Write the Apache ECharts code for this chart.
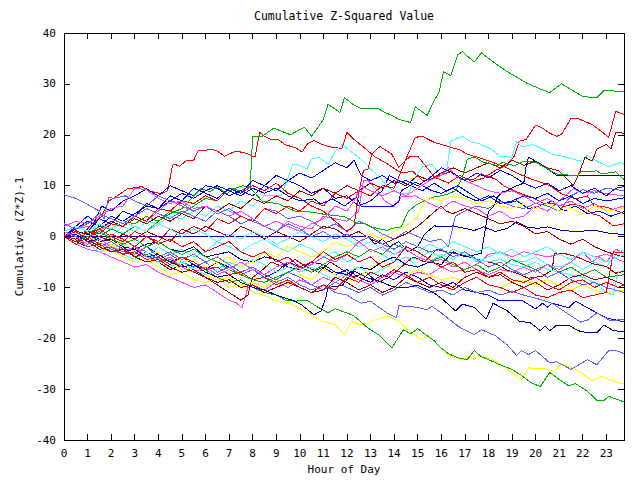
<!DOCTYPE html>
<html><head><meta charset="utf-8">
<script src="https://cdn.jsdelivr.net/npm/echarts@6/dist/echarts.min.js"></script>
<style>html,body{margin:0;padding:0;background:#fff}#c{width:640px;height:480px}#c svg path{shape-rendering:crispEdges}</style>
</head><body><div id="c"></div>
<script>
const titleText = 'Cumulative Z-Squared Value';
const xName = 'Hour of Day';
const yName = 'Cumulative (Z*Z)-1';
const xMin = 0, xMax = 23.75, xStep = 1;
const yMin = -40, yMax = 40, yStep = 10;

const C_RED = '#ff0000', C_GREEN = '#00b000', C_BLUE = '#0000ff', C_MAGENTA = '#ff40ff',
      C_CYAN = '#40ffff', C_DARKRED = '#a00000', C_YELLOW = '#ffff00', C_SLATE = '#6060ff', C_NAVY = '#0000a0';

const green1 = [[0,0],[0.5,1],[1,0.5],[1.5,2],[2,1.5],[2.5,3],[3,2.5],[3.5,4],[4,3],[4.5,5],[5,4.5],[5.5,6],[6,7.5],[6.5,7],[7,9.5],[7.5,9],[7.9,10],[8.0,19.7],[8.4,19.7],[8.9,21.3],[9.6,20],[10.2,21.5],[10.5,19.7],[11,23],[11.2,26],[11.7,24.4],[11.9,27.3],[12.3,25.8],[12.6,25.2],[13.3,25.2],[13.6,24.4],[14,23.6],[14.2,23],[14.7,22.4],[14.9,25.5],[15.4,23.8],[15.7,26.7],[15.9,28.3],[16.1,32.4],[16.4,31.6],[16.7,35.7],[16.9,36.3],[17.4,34.3],[17.7,36.1],[18.3,34],[18.8,32.4],[19.1,31.6],[19.6,30.2],[20.2,29],[20.6,28.3],[21.1,30],[22,27.5],[22.6,27.3],[22.9,28.7],[23.75,28.5]];
const red1 = [[0,0],[0.4,1.5],[0.8,0.5],[1.2,2.5],[1.6,4],[1.9,7],[2.2,7.8],[2.7,9.4],[3.3,9.8],[3.6,9],[4.1,8.4],[4.4,9],[4.6,14],[4.7,14.2],[4.9,13.8],[5.2,15],[5.5,15],[5.7,17],[5.9,16.8],[6.2,17.2],[6.5,16.8],[6.8,15.8],[7.3,16.8],[7.7,16.4],[8.0,15.8],[8.1,15.6],[8.3,20.5],[8.5,19.7],[8.8,19],[9.1,19],[9.4,18],[9.8,17.5],[10.1,16.6],[10.3,18.1],[10.6,18.9],[10.9,18.2],[11.2,17.7],[11.6,17.4],[11.8,17.4],[12,20.5],[12.3,19.1],[12.8,17.2],[13.2,15.6],[13.6,14.6],[13.9,13.7],[14.3,12.5],[14.8,12.8],[15.2,11],[15.8,11.5],[16.3,10.5],[16.8,12],[17.3,10.8],[17.8,11.5],[18.3,13],[18.8,14],[19.1,15.8],[19.3,18.7],[19.6,19.1],[20,21.9],[20.3,21.3],[20.6,20.3],[20.9,19.7],[21.1,20.1],[21.5,23.2],[21.8,23.2],[22.4,22],[22.7,21],[23.1,19.5],[23.4,24.6],[23.75,24]];
const darkred1 = [[0,0],[0.5,-1],[1,0.5],[1.5,1.5],[2,3],[2.5,2],[3,3.5],[3.5,2.5],[4,4],[4.5,3],[5,4.5],[5.5,3.5],[6,6],[6.5,5],[7,6.5],[7.5,5.5],[8,7.5],[8.5,6.5],[9,8],[9.5,7],[10,9],[10.5,8],[11,9.5],[11.5,8.5],[12,10],[12.5,9],[13,10.5],[13.5,9.5],[14,11],[14.5,10],[15,12],[15.5,11],[16,12.5],[16.5,13.5],[17,12.5],[17.5,13.5],[18,14.5],[18.5,13.5],[19,15],[19.5,14],[20,14.8],[20.5,13.5],[21,12.9],[21.6,10],[21.8,11.9],[22.1,15.6],[22.4,14.8],[22.6,17.2],[23,18.1],[23.2,17.2],[23.4,20.5],[23.75,20.3]];
const cyan1 = [[0,0],[0.5,-1],[1,-0.5],[1.5,1],[2,0],[2.5,2],[3,1],[3.5,3],[4,2.5],[4.5,4],[5,3.5],[5.5,5],[6,4],[6.5,6],[7,5],[7.5,7],[8,6],[8.5,8],[9.2,8],[9.5,11.5],[9.7,14.2],[10,14],[10.3,13.3],[10.5,15.2],[10.8,15.6],[11.2,14.2],[11.5,16.6],[11.8,18.1],[12.2,16.6],[12.6,15.2],[13,13.3],[13.4,11.5],[13.8,9.5],[14.2,8.5],[14.6,8.4],[14.9,11.7],[15.2,13.7],[15.6,14.2],[15.9,12.5],[16.2,12],[16.4,18.7],[16.9,19.7],[17.3,18.5],[17.6,18.3],[18.1,17.2],[18.5,15.8],[19,15.6],[19.2,18.7],[19.4,17.6],[19.9,18.1],[20.3,17.2],[20.7,16.2],[21.3,15.6],[21.9,14.8],[22.2,16],[22.6,14.8],[23.1,13.7],[23.6,14.6],[23.75,14.2]];
const navy2 = [[0,0],[0.5,1],[1,0.5],[1.5,-1],[2,-0.5],[2.5,-2],[3,-2.5],[3.5,-1.5],[4,-1],[4.5,-2.5],[5,-3],[5.5,-2],[6,-4],[6.5,-3.5],[7,-3],[7.5,-4.5],[8,-5],[8.5,-4],[9,-4.5],[9.5,-6],[10,-6.5],[10.5,-5],[11,-5.5],[11.5,-7],[12,-7.5],[12.5,-6],[13,-6.5],[13.5,-5],[14,-4],[14.5,-5.5],[15,-6],[15.5,-5],[16,-5.5],[16.5,-3],[17,-4],[17.7,-3.3],[17.85,1],[18,4.9],[18.2,5.8],[18.4,7.8],[18.6,8.8],[18.8,9],[19.1,9.8],[19.5,10.5],[19.6,13.9],[19.7,15.6],[20,14.8],[20.5,13.3],[20.9,12],[23.75,12]];
const green3 = [[0,0],[0.5,1],[1,-1],[1.5,0],[2,1.5],[2.5,0.5],[3,2],[3.5,1],[4,3],[4.5,4.5],[5,5.5],[5.3,7],[5.8,9.4],[6.2,8.8],[6.5,9.8],[6.9,8.4],[7.2,9.4],[7.6,10],[7.9,9.6],[8.2,8],[8.4,7],[8.6,6.8],[9.1,6.4],[9.8,5],[10.5,4.8],[11,4.4],[11.9,3.9],[12.5,2.5],[12.8,2.5],[13,1.9],[13.7,1.2],[13.9,1.6],[14.3,1.9],[14.6,5],[15,6.4],[15.7,7.8],[16,8],[16.3,8.4],[16.6,9],[16.9,11.7],[17.1,15.2],[17.4,15.6],[17.8,14.6],[18.4,13.9],[18.6,14.6],[19.1,13.9],[19.5,14.8],[20,14.6],[20.5,13.3],[20.9,12.3],[21.8,11.9],[21.9,12.7],[22.6,12.9],[22.8,12.3],[23.4,12.7],[23.75,11.2]];
const magenta1 = [[0,0],[0.5,1.5],[1,2],[1.5,1],[2,3],[2.5,2],[3,4],[3.5,3],[4,5],[4.5,7],[5,6],[5.5,5],[6,4],[6.5,6],[7,5],[7.5,4],[8,3],[8.5,2],[9,1],[9.5,3],[10,2],[10.5,1.5],[11,4],[11.5,3.5],[12,3],[12.5,5],[12.7,11],[12.9,11],[13.3,9],[13.6,7],[14,5.9],[14.3,7.8],[14.9,8],[15.5,6.5],[16,5.5],[16.5,7],[17,6],[17.5,5.5],[18,4],[18.5,5],[19,3.5],[19.5,4],[20,6],[20.5,5],[21,7],[21.6,9.4],[22,8.5],[22.5,9],[23,8.4],[23.75,8]];
const slate1 = [[0,8.2],[0.5,7.5],[1,6.3],[1.5,5],[1.7,3.5],[1.9,7.8],[2.1,7.5],[2.6,8],[3,7],[3.5,6],[4,8],[4.5,7],[5,6.5],[5.5,5],[6,6],[6.5,4.5],[7,5.5],[7.5,4],[8,3],[8.5,5.5],[9,5],[9.5,3.5],[10,4],[10.5,3],[11,1.5],[11.5,2.5],[12,1],[12.5,3],[13,2],[13.5,0.5],[14,-0.5],[14.5,1],[15,0],[15.5,-1],[16,-0.5],[16.3,-2],[16.6,4],[17,5],[17.5,6],[18,5.5],[18.5,7],[19,6],[19.5,5.5],[20,6.5],[20.5,6],[21,5],[21.5,8],[22,9.2],[22.5,8.5],[23,9.5],[23.75,9]];
const blue1 = [[0,0],[0.5,2],[1,4],[1.3,3],[1.6,6],[2,5],[2.5,7],[3,8],[3.5,9.4],[4,8],[4.5,10],[5,9],[5.5,8],[6,10],[6.5,9.5],[7,8],[7.5,9],[8,8],[8.5,10],[9,9],[9.5,11],[10,10],[10.5,8.5],[11,9.5],[11.5,7.5],[12,8],[12.5,6],[13,7],[13.5,9],[13.8,12],[14.2,11],[14.7,10],[15.2,9],[15.7,10.5],[16.2,9],[16.7,10],[17.2,8.5],[17.7,7],[18.2,8],[18.7,6.5],[19.2,7],[19.7,5.5],[20.2,6],[20.7,7],[21.2,5],[21.7,6],[22.2,4.5],[22.7,5],[23.2,4],[23.75,4.9]];
const red2 = [[0,0],[0.5,-1],[1,1],[1.5,0.5],[2,2.5],[2.5,2],[3,4],[3.5,3],[4,5.5],[4.5,5],[5,7],[5.5,6.5],[6,8],[6.5,7],[7,9.5],[7.5,8.5],[8,10],[8.5,9],[9,10.5],[9.5,8.5],[10,7.5],[10.5,6],[11,5],[11.5,3],[12,1],[12.3,2],[12.5,8.5],[12.7,13],[12.9,13.3],[13.05,16.2],[13.4,17.7],[13.9,16.2],[14.2,13.6],[14.4,14.6],[14.7,15.8],[15,15.8],[15.4,13.5],[15.7,11.7],[16.4,12.7],[16.8,11.3],[17.4,11.3],[17.7,12.3],[18.3,11.3],[18.7,9.8],[19.4,8.4],[19.8,7.8],[20.4,6.4],[20.8,6.4],[21.2,5.9],[21.6,6.4],[22,5.9],[22.4,4.5],[22.7,4.1],[23.3,2.1],[23.75,2.5]];
const red4 = [[0,0],[0.5,1],[1,0],[1.5,-1.5],[2,0.5],[2.5,-0.5],[3,-2],[3.5,0],[4,-1],[4.5,1.5],[5,0.5],[5.5,2],[6,1],[6.5,3.5],[7,2.5],[7.5,4],[8,3],[8.5,5.5],[9,4.5],[9.5,6],[10,5],[10.5,7],[11,6],[11.5,8.5],[12,7.5],[12.5,9],[13,8],[13.5,10],[14,9.5],[14.5,15.2],[14.9,19.5],[15.2,19.7],[15.7,18.5],[16.3,17.7],[16.8,17],[17.1,16.2],[17.8,15.2],[18.6,13.9],[19.2,12.5],[19.7,11.5],[20.2,10.7],[20.6,10],[21.1,8.4],[21.7,7.4],[22.2,8],[22.5,5.9],[22.8,6],[23.2,5.5],[23.75,4.5]];
const navy1 = [[0,0],[12.9,0],[13.2,-1.5],[13.5,-0.5],[13.8,-2],[14.2,-1],[14.6,-3],[15,-2],[15.3,0.5],[15.7,2.1],[16.1,1.9],[16.5,2.1],[17,1.6],[17.4,1.2],[17.8,1.9],[18.3,1],[18.8,1.6],[19.2,2.9],[19.6,1.9],[20.1,1.6],[20.5,1.9],[21.1,1.2],[21.7,1],[22.5,1.2],[23.2,0.6],[23.75,0.4]];
const cyan2 = [[0,0],[0.5,-1],[1,-2],[1.5,-1],[2,-2.5],[2.5,-1.5],[3,-3],[3.5,-4],[4,-2],[4.5,-3.5],[5,-2.5],[5.5,-4],[6,-3],[6.5,-1],[7,-2],[7.5,-3],[8,-1.5],[8.5,-0.5],[9,-2],[9.5,-3],[10,-1.5],[10.5,-2.5],[11,-4],[11.5,-3],[12,-5],[12.5,-4],[13,-2.5],[13.5,-3.5],[14,-5],[14.5,-4],[15,-6],[15.5,-5],[16,-3.5],[16.5,-4.5],[17,-3],[17.5,-5],[18,-4],[18.5,-3],[19,-4.5],[19.5,-5],[20,-4],[20.5,-5.5],[21,-6],[21.5,-5],[22,-6.5],[22.5,-5],[23,-6],[23.5,-3],[23.75,-2.7]];
const darkred2 = [[0,0],[0.5,-1],[1,-2],[1.5,-1.5],[2,-3],[2.5,-2],[3,-4],[3.5,-3],[4,-5],[4.5,-6.5],[5,-5.5],[5.5,-7],[6,-8],[6.5,-9.5],[7,-11],[7.5,-12.5],[7.8,-11.5],[8,-8],[8.3,-7],[8.8,-5],[9.3,-6],[9.8,-4.5],[10.3,-6],[10.8,-7],[11.3,-5],[11.8,-6.5],[12.3,-8],[12.8,-7],[13.3,-9],[13.8,-8],[14.3,-6],[14.8,-4],[15.3,-5],[15.8,-2.5],[16.2,-3],[16.6,-3.3],[17.1,-3.9],[17.7,-4.7],[18.3,-5.3],[18.8,-6.6],[19.2,-7.2],[19.7,-8.2],[20.3,-7.8],[20.7,-6.6],[20.8,-3.3],[21.2,-3.3],[21.7,-3.9],[22.4,-5.3],[23,-5.9],[23.4,-7.2],[23.75,-6.8]];
const red5 = [[0,0],[0.5,-1.5],[1,-1],[1.5,-2.5],[2,-2],[2.5,-3.5],[3,-3],[3.5,-4.5],[4,-4],[4.5,-5.5],[5,-4],[5.5,-5],[6,-6.5],[6.5,-6],[7,-7.5],[7.5,-7],[8,-8.5],[8.5,-8],[9,-9.5],[9.5,-8.5],[10,-10],[10.5,-11],[11,-9.5],[11.5,-10.5],[12,-8],[12.5,-9],[13,-7],[13.5,-8],[14,-6.5],[14.5,-7.5],[15,-9],[15.5,-8],[16,-9.5],[16.5,-10.5],[17,-9],[17.5,-8],[18,-9.5],[18.5,-10],[19,-11],[19.5,-10],[20,-11.5],[20.5,-12],[21,-11],[21.5,-10.5],[22,-12],[22.5,-11.5],[23,-11],[23.3,-3],[23.75,-3.2]];
const red6 = [[0,0],[0.5,1],[1,-0.5],[1.5,1.5],[2,0],[2.5,-1],[3,1],[3.5,0],[4,-1.5],[4.5,-0.5],[5,-2],[5.5,-1],[6,-3],[6.5,-2],[7,-1],[7.5,-3],[8,-4],[8.5,-3],[9,-5],[9.5,-4],[10,-6],[10.5,-5],[11,-3],[11.5,-4.5],[12,-3.5],[12.5,-5],[13,-4],[13.5,-6],[14,-5],[14.5,-2],[15,-3],[15.5,-4.5],[16,-6],[16.5,-5],[17,-7],[17.5,-6.5],[18,-8],[18.5,-7],[19,-8.5],[19.5,-9],[20,-8],[20.5,-9.5],[21,-10.5],[21.5,-9],[22,-8.5],[22.5,-10],[23,-9],[23.5,-10],[23.75,-9.5]];
const magenta2 = [[0,0],[0.5,-1.5],[1,-2.5],[1.5,-3],[2,-4],[2.5,-5],[3,-6],[3.5,-5.5],[4,-7],[4.5,-8],[5,-9],[5.5,-10],[6,-9.5],[6.5,-11],[7,-12.5],[7.3,-13],[7.55,-14],[7.8,-10],[8,-9.5],[8.5,-10.5],[9,-9],[9.5,-10],[10,-8.5],[10.5,-9.5],[11,-8],[11.5,-9],[12,-7.5],[12.5,-8.5],[13,-9.5],[13.5,-8],[14,-7],[14.5,-8],[15,-7],[15.5,-7.5],[16,-6],[16.5,-7],[17,-6.5],[17.5,-5.5],[18,-3.5],[18.5,-3],[19,-4],[19.5,-3],[20,-3.5],[20.5,-4],[21,-3.5],[21.5,-4.5],[22,-3],[22.4,-5],[22.7,-4],[23,-5],[23.4,-2.5],[23.75,-3.2]];
const magenta3 = [[0,2],[0.5,3],[1,2.5],[1.5,4],[2,5.5],[2.5,6],[3,9.5],[3.5,9.2],[4,7.5],[4.5,6.5],[5,7],[5.5,5.5],[6,6],[6.5,5],[7,4],[7.5,5],[8,3.5],[8.5,2],[9,3],[9.5,2],[10,1],[10.5,2.5],[11,3.5],[11.5,6],[12,5],[12.3,7],[12.6,10],[13,9],[13.5,8],[14,9],[14.5,8],[15,9.5],[15.5,11],[16,12],[16.3,13.6],[16.6,12],[17,11],[17.5,10],[18,9],[18.5,8.5],[19,9],[19.5,8],[20,6.5],[20.5,7.5],[21,6],[21.5,7],[22,5.5],[22.5,6.5],[23,5],[23.75,6]];
const yellow1 = [[0,0],[0.5,-1],[1,-1.5],[1.5,-3],[2,-2.5],[2.5,-4],[3,-5],[3.5,-4.5],[4,-6],[4.5,-7.5],[5,-7],[5.5,-8.5],[6,-9],[6.5,-8],[7,-10],[7.5,-9.5],[8,-11],[8.5,-11.5],[8.9,-12.5],[9.5,-13],[10.2,-14.6],[10.9,-16.6],[11.5,-17.3],[11.9,-19.3],[12.2,-16.6],[12.5,-17.3],[12.9,-17.1],[13.2,-16.4],[13.7,-15.6],[14.2,-16.6],[14.6,-18.5],[15.2,-20.3],[15.4,-19.3],[15.7,-20.5],[16.3,-23.4],[16.9,-24.2],[17.2,-23.4],[17.4,-24.2],[17.6,-23.4],[18.2,-24.2],[18.8,-26.1],[19.4,-28.1],[19.7,-25.8],[20.4,-26],[20.8,-26.5],[21.1,-25],[21.7,-26.1],[22.4,-28.3],[22.8,-27.5],[23.1,-28.1],[23.75,-29]];
const greenLow = [[0,0],[0.5,-1],[1,-2],[1.5,-1.5],[2,-3],[2.5,-2.5],[3,-4],[3.5,-3.5],[4,-5],[4.5,-4.5],[5,-6],[5.5,-7],[6,-6.5],[6.5,-8],[7,-9],[7.5,-8.5],[8,-10],[8.5,-11],[9,-11.5],[9.4,-12.5],[9.8,-12.7],[10.3,-12.5],[10.7,-13.7],[11.2,-15],[11.5,-14.2],[12,-15],[12.3,-15.6],[12.9,-18],[13.4,-19.5],[13.9,-21.9],[14.4,-18.3],[14.7,-19.1],[15,-18.1],[15.7,-20.5],[16,-21.9],[16.3,-23],[16.7,-23.8],[17.1,-24.2],[17.4,-22.4],[17.7,-23.6],[18,-24.2],[18.6,-25.4],[19,-26.1],[19.4,-27.3],[19.8,-28.7],[20.2,-29.5],[20.6,-26.7],[21,-28.1],[21.4,-29.3],[21.7,-28.9],[22.2,-30.4],[22.6,-32.2],[22.9,-32.2],[23.1,-31.4],[23.75,-32.5]];
const slateLow = [[0,0],[0.5,-0.5],[1,-2],[1.5,-1],[2,-2.5],[2.5,-3.5],[3,-2],[3.5,-3],[4,-4.5],[4.5,-3.5],[5,-5],[5.5,-6],[6,-5],[6.5,-7],[7,-6],[7.5,-7.5],[8,-6.5],[8.5,-8],[9,-9],[9.5,-8],[10,-9.5],[10.5,-10.5],[11,-9.5],[11.5,-11],[12,-11.5],[12.2,-12.1],[12.6,-13.1],[13,-12.7],[13.3,-13.7],[13.7,-15],[14.1,-16],[14.2,-13.5],[14.4,-13.7],[15,-13.9],[15.4,-14.4],[15.6,-13.7],[16,-15],[16.7,-17.6],[17.4,-19.3],[17.7,-18.3],[18.3,-19.5],[18.8,-21.3],[19.2,-23.4],[19.4,-22.4],[19.7,-23.2],[20,-22.4],[20.6,-24.8],[20.9,-24.6],[21.5,-26.1],[22.2,-24.2],[22.6,-25.2],[23.1,-22.4],[23.4,-22.4],[23.75,-23]];
const navy3 = [[0,0],[0.5,0.5],[1,-1],[1.5,-0.5],[2,-2],[2.5,-3],[3,-2.5],[3.5,-4],[4,-3.5],[4.5,-5],[5,-6],[5.5,-5.5],[6,-7],[6.5,-8],[7,-7.5],[7.5,-9],[8,-10],[8.5,-10.5],[9,-11.5],[9.4,-12.1],[9.8,-12.7],[10.1,-13.5],[10.6,-15.4],[10.9,-14.6],[11.1,-12.1],[11.2,-10],[11.8,-9.6],[12.3,-6.8],[12.5,-7.2],[12.9,-8.2],[13.3,-8.6],[13.9,-9.8],[14.4,-10.1],[15,-9.6],[15.7,-11.1],[16.1,-12.5],[16.6,-14.6],[16.9,-13.3],[17.4,-13.9],[17.9,-16.2],[18.2,-13.1],[18.8,-14.6],[19.3,-16.6],[19.8,-17],[20.2,-18.5],[20.4,-17.6],[20.6,-18.5],[20.9,-17.4],[21.4,-17.4],[21.8,-18.5],[22.2,-18.9],[22.6,-18.9],[22.9,-17.4],[23.3,-18.5],[23.75,-18.7]];
const blue2 = [[0,0],[0.5,-1],[1,0.5],[1.5,-0.5],[2,-2],[2.5,-1],[3,-3],[3.5,-2],[4,-3.5],[4.5,-5],[5,-4],[5.5,-5.5],[6,-6.5],[6.5,-5],[7,-6],[7.5,-7.5],[8,-6.5],[8.5,-8],[9,-7],[9.5,-5],[10,-6],[10.5,-7],[11,-6],[11.5,-7.5],[12,-6.5],[12.5,-8],[13,-9],[13.5,-7.5],[14,-8.5],[14.5,-7],[15,-8],[15.5,-9.5],[16,-10],[16.5,-9],[17,-10.5],[17.5,-11],[18,-11.5],[18.4,-12.5],[19.4,-12.5],[20,-14.2],[20.3,-13.1],[20.5,-13.9],[20.7,-13.1],[21.4,-14],[21.7,-12.7],[22.2,-14],[22.6,-15],[23,-16],[23.6,-16.6],[23.75,-16.8]];
const slate2 = [[0,0],[0.5,1],[1,-0.5],[1.5,-2],[2,-1],[2.5,-2.5],[3,-3.5],[3.5,-2],[4,-4],[4.5,-3],[5,-4.5],[5.5,-3.5],[6,-5],[6.5,-4],[7,-5.5],[7.5,-7],[8,-6],[8.5,-7.5],[9,-8.5],[9.5,-7],[10,-8],[10.5,-9.5],[11,-10.5],[11.5,-9],[12,-10],[12.5,-11],[13,-10],[13.5,-11.5],[14,-10.5],[14.5,-9],[15,-10],[15.5,-11],[16,-10.5],[16.5,-11.5],[17,-10],[17.5,-11],[18,-10.5],[18.5,-11.5],[19,-10.8],[19.5,-11.5],[20,-12.1],[20.7,-13.1],[21.9,-16.8],[22.2,-16.4],[22.6,-15],[23.2,-16.6],[23.75,-16.2]];
const blue3 = [[0,0],[0.5,1.5],[1,3],[1.5,2],[2,4],[2.5,3],[3,4.5],[3.5,6],[4,5.5],[4.5,7],[5,8.5],[5.5,7.5],[6,9],[6.5,10],[7,9],[7.5,8],[8,9.5],[8.5,8.5],[9,9.5],[9.5,8],[10,7],[10.6,7.4],[10.9,6.4],[11.4,7.4],[11.9,6],[12.4,7.8],[12.6,6],[13.2,5.9],[13.5,6],[13.9,5.9],[14.2,6.8],[14.3,9],[14.6,9.8],[14.9,10.7],[15.2,10],[15.6,9],[16,8.5],[16.5,9.5],[17,8],[17.5,7],[18,8],[18.5,6.5],[19,7],[19.5,8],[20,7.5],[20.5,8.5],[21,7],[21.5,8],[22,6.5],[22.5,7.5],[23,7],[23.75,7.6]];
const blue4 = [[0,0],[0.5,2],[1,1],[1.5,3.5],[2,2.5],[2.5,5],[3,4],[3.5,6.5],[4,5.5],[4.5,8],[5,7],[5.5,9.5],[6,8.5],[6.5,7.5],[7,9.5],[7.5,8.5],[8,11],[8.5,10],[9,12],[9.5,11],[10,12.5],[10.5,11.5],[11,13],[11.5,14.5],[12,13.5],[12.3,15],[12.6,12],[13,11],[13.5,12],[14,10.5],[14.5,11],[15,10],[15.5,11.5],[16,13.5],[16.5,12.5],[17,11],[17.5,12.5],[18,11.5],[18.5,13],[19,12],[19.5,10.5],[20,9.5],[20.5,10.5],[21,9],[21.5,10],[22,8.5],[22.5,9.5],[23,8],[23.4,9.5],[23.75,9.8]];
const yellow3 = [[0,0],[0.5,1],[1,0],[1.5,-1],[2,-2],[2.5,-1],[3,-3],[3.5,-2],[4,-4],[4.5,-3],[5,-5],[5.5,-4.5],[6,-6],[6.5,-5],[7,-4],[7.5,-6],[8,-5],[8.5,-3],[9,-4],[9.5,-2],[10,-3],[10.5,-4],[11,-3],[11.5,-1],[12,-2],[12.5,-1],[13,0.5],[13.5,-0.5],[14,1],[14.5,2],[15,4],[15.3,7],[15.6,7.5],[16,7],[16.5,8],[17,7.5],[17.5,6.5],[18,7],[18.5,6],[19,5.5],[19.5,6.5],[20,5.5],[20.5,6.5],[21,5],[21.5,5.5],[22,4.5],[22.5,6],[23,5],[23.75,5.5]];
const yellow2 = [[0,0],[0.5,-1],[1,-0.5],[1.5,-2],[2,-1.5],[2.5,-3],[3,-2.5],[3.5,-4],[4,-3],[4.5,-5],[5,-6.5],[5.5,-6],[6,-7.5],[6.5,-8.5],[7,-8],[7.5,-9.5],[8,-9],[8.5,-10],[9,-8.5],[9.5,-9.5],[10,-7.5],[10.5,-8.5],[11,-6.5],[11.5,-7.5],[12,-9],[12.5,-8],[13,-6],[13.5,-5],[14,-6.5],[14.5,-7.5],[15,-6.5],[15.5,-7.5],[16,-8.5],[16.5,-8],[17,-9],[17.5,-8],[18,-9.5],[18.5,-10],[19,-9],[19.5,-8.5],[20,-9.5],[20.5,-8.5],[21,-9.5],[21.5,-10.5],[22,-9.5],[22.5,-10.5],[23,-11],[23.75,-10.5]];
const cyan3 = [[0,0],[0.5,-0.5],[1,-1.5],[1.5,-3],[2,-2],[2.5,-3.5],[3,-4.5],[3.5,-3],[4,-5],[4.5,-6],[5,-5],[5.5,-6.5],[6,-7.5],[6.5,-6.5],[7,-5],[7.5,-6],[8,-4.5],[8.5,-5.5],[9,-7],[9.5,-6],[10,-7],[10.5,-6],[11,-7.5],[11.5,-8.5],[12,-7],[12.5,-6],[13,-7.5],[13.5,-6.5],[14,-5],[14.5,-4],[15,-4.5],[15.5,-3],[16,-4],[16.5,-2.5],[17,-3.5],[17.5,-4.5],[18,-5],[18.5,-4.5],[19,-5.5],[19.5,-6],[20,-5],[20.5,-6.5],[21,-7],[21.5,-7.5],[22,-8],[22.5,-9],[23,-11],[23.3,-11.5],[23.5,-7],[23.75,-6.5]];
const darkred3 = [[0,0],[0.5,-0.5],[1,1],[1.5,0],[2,-1],[2.5,0.5],[3,-0.5],[3.5,1],[4,0],[4.5,-1],[5,1.5],[5.5,0.5],[6,2],[6.5,1],[7,0],[7.5,2],[8,1],[8.5,-0.5],[9,1],[9.5,0],[10,-1],[10.5,0.5],[11,2],[11.5,1.5],[12,0],[12.5,1],[13,-0.5],[13.5,-1.5],[14,-0.5],[14.5,0.5],[15,2],[15.5,4],[16,6],[16.2,5],[16.5,4.5],[17,5.5],[17.5,4.5],[18,3.5],[18.5,2.5],[19,3],[19.5,2],[20,0.5],[20.5,1],[21,-0.5],[21.5,-1.5],[22,-0.5],[22.5,-2],[23,-3],[23.75,-4]];
const darkred4 = [[0,0],[0.5,-1],[1,-0.5],[1.5,-2],[2,-3],[2.5,-2.5],[3,-4],[3.5,-5],[4,-4.5],[4.5,-6],[5,-7],[5.5,-6.5],[6,-8],[6.5,-9],[7,-8.5],[7.5,-10],[8,-9.5],[8.5,-11],[9,-10],[9.5,-9],[10,-10],[10.5,-11],[11,-10.5],[11.5,-8],[12,-9],[12.5,-10.5],[13,-9.5],[13.5,-11],[14,-10],[14.5,-8],[15,-9],[15.5,-10],[16,-9],[16.5,-10],[17,-8],[17.5,-7],[18,-8],[18.5,-7.5],[19,-9],[19.5,-10],[20,-9],[20.5,-10.5],[21,-9.5],[21.5,-8],[22,-7.5],[22.5,-8.5],[23,-8],[23.75,-9.5]];
const green2 = [[0,0],[0.5,-1],[1,0],[1.5,1],[2,-0.5],[2.5,-1.5],[3,-0.5],[3.5,-2],[4,-1],[4.5,-2.5],[5,-3.5],[5.5,-2.5],[6,-4],[6.5,-5],[7,-6.5],[7.5,-7.5],[8,-8.5],[8.5,-9],[9,-8],[9.5,-7],[10,-6],[10.5,-7],[11,-5.5],[11.5,-4],[12,-3],[12.5,-4],[13,-2.5],[13.5,-3.5],[14,-1.5],[14.5,-2.5],[15,-4],[15.5,-5],[16,-4],[16.5,-5.5],[17,-6.5],[17.5,-5.5],[18,-7],[18.5,-6],[19,-4.5],[19.5,-5.5],[20,-6.5],[20.5,-5.5],[21,-7],[21.5,-6],[22,-7.5],[22.5,-6.5],[23,-8],[23.75,-7.5]];
const magenta4 = [[0,1],[0.5,0],[1,-1.5],[1.5,-0.5],[2,-2],[2.5,-3],[3,-2],[3.5,-4],[4,-5],[4.5,-4],[5,-6],[5.5,-7],[6,-6],[6.5,-7.5],[7,-6.5],[7.5,-5],[8,-6.5],[8.5,-7.5],[9,-6],[9.5,-5],[10,-6.5],[10.5,-5.5],[11,-4],[11.5,-5],[12,-3.5],[12.5,-1],[12.8,-2],[13,-3],[13.5,-2],[14,-3.5],[14.5,-2.5],[15,-4],[15.5,-5],[16,-4.5],[16.5,-6],[17,-5],[17.5,-6.5],[18,-7.5],[18.5,-6.5],[19,-7],[19.5,-6],[20,-7],[20.5,-5.5],[21,-6.5],[21.5,-5],[22,-3],[22.5,-4],[23,-3.5],[23.75,-5]];
const cyan4 = [[0,1],[0.5,2],[1,1],[1.5,2.5],[2,1.5],[2.5,3],[3,2],[3.5,1],[4,2.5],[4.5,1.5],[5,0],[5.5,1.5],[6,0.5],[6.5,-1],[7,0.5],[7.5,-0.5],[8,1],[8.5,0],[9,-1.5],[9.5,-0.5],[10,1],[10.5,0],[11,-1],[11.5,0.5],[12,-0.5],[12.5,-2],[13,-1],[13.5,-2.5],[14,-3.5],[14.5,-2],[15,-3],[15.5,-1.5],[16,-2.5],[16.5,-1],[17,-2],[17.5,-3],[18,-2],[18.5,-3.5],[19,-2.5],[19.5,-4],[20,-3],[20.5,-2],[21,-3.5],[21.5,-4.5],[22,-3],[22.5,-4],[23,-5],[23.5,-4],[23.75,-3.5]];
const slate3 = [[0,2.5],[0.5,1.5],[1,2.5],[1.5,4.5],[2,3.5],[2.5,2.5],[3,4],[3.5,5.5],[4,4.5],[4.5,3.5],[5,5],[5.5,4],[6,3],[6.5,5],[7,4],[7.5,2.5],[8,3.5],[8.5,2],[9,1],[9.5,2.5],[10,1.5],[10.5,0],[11,1],[11.5,-0.5],[12,0.5],[12.5,-1],[13,0],[13.5,-1.5],[14,-2.5],[14.5,-1],[15,-2],[15.5,-3],[16,-2.5],[16.5,-4],[17,-3],[17.5,-4.5],[18,-6],[18.5,-5],[19,-6.5],[19.5,-7.5],[20,-6.5],[20.5,-8],[21,-7],[21.5,-8.5],[22,-9.5],[22.5,-9],[23,-10],[23.75,-11]];

const seriesList = [
  [red1, C_RED], [green1, C_GREEN], [blue1, C_BLUE], [magenta1, C_MAGENTA], [cyan1, C_CYAN], [darkred1, C_DARKRED], [yellow1, C_YELLOW], [slate1, C_SLATE], [navy1, C_NAVY],
  [red2, C_RED], [greenLow, C_GREEN], [blue2, C_BLUE], [magenta2, C_MAGENTA], [cyan2, C_CYAN], [darkred2, C_DARKRED], [yellow2, C_YELLOW], [slateLow, C_SLATE], [navy2, C_NAVY],
  [red4, C_RED], [green3, C_GREEN], [blue3, C_BLUE], [magenta3, C_MAGENTA], [cyan3, C_CYAN], [darkred3, C_DARKRED], [yellow3, C_YELLOW], [slate2, C_SLATE], [navy3, C_NAVY],
  [red5, C_RED], [green2, C_GREEN], [blue4, C_BLUE], [magenta4, C_MAGENTA], [cyan4, C_CYAN], [darkred4, C_DARKRED], [slate3, C_SLATE], [red6, C_RED]
];

const FONT = 'DejaVu Sans Mono';
const axisCommon = {
  axisLine: {show: true, onZero: false, lineStyle: {color: '#000', width: 1}},
  axisTick: {show: true, inside: true, length: 6, lineStyle: {color: '#000', width: 1}},
  splitLine: {show: false}
};
const chart = echarts.init(document.getElementById('c'), null, {renderer: 'svg'});
chart.setOption({
  animation: false,
  backgroundColor: '#fff',
  grid: {left: 64, right: 16, top: 33, bottom: 37, containLabel: false},
  graphic: [{type: 'text', x: 344, y: 16, style: {text: titleText, textAlign: 'center', textVerticalAlign: 'middle', verticalAlign: 'middle', font: '11.5px "DejaVu Sans Mono"', fill: '#000'}}],
  xAxis: [
    Object.assign({type: 'value', min: xMin, max: xMax, interval: xStep, position: 'bottom',
      axisLabel: {color: '#000', fontFamily: FONT, fontSize: 11, margin: 8, formatter: v => Number.isInteger(v) ? String(v) : ''},
      name: xName, nameLocation: 'middle', nameGap: 23, nameTextStyle: {color: '#000', fontFamily: FONT, fontSize: 11}}, axisCommon),
    Object.assign({type: 'value', min: xMin, max: xMax, interval: xStep, position: 'top', axisLabel: {show: false}}, axisCommon)
  ],
  yAxis: [
    Object.assign({type: 'value', min: yMin, max: yMax, interval: yStep, position: 'left',
      axisLabel: {color: '#000', fontFamily: FONT, fontSize: 11, margin: 8},
      name: yName, nameLocation: 'middle', nameGap: 31, nameRotate: 90, nameTextStyle: {color: '#000', fontFamily: FONT, fontSize: 11}}, axisCommon),
    Object.assign({type: 'value', min: yMin, max: yMax, interval: yStep, position: 'right', axisLabel: {show: false}}, axisCommon)
  ],
  series: seriesList.map(([d, c], i) => ({
    type: 'line', name: 's' + i, data: d, xAxisIndex: 0, yAxisIndex: 0,
    showSymbol: false, symbol: 'none', silent: true, clip: true,
    lineStyle: {color: c, width: 1}, itemStyle: {color: c}
  }))
});
</script>
</body></html>
